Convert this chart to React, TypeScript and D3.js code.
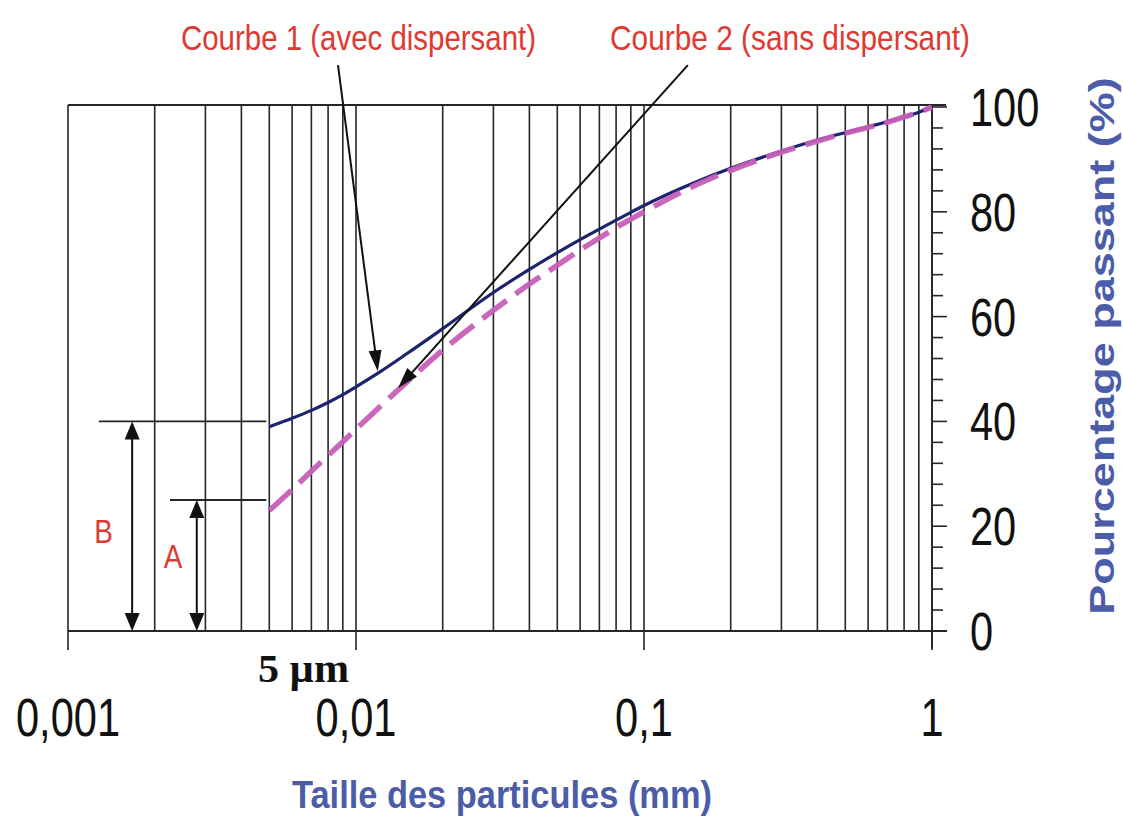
import React from "react";
import * as d3 from "d3";

const W = 1123;
const H = 818;

// Particle sizes (mm) and cumulative passing percentages
const sizes = [0.005, 0.006, 0.007, 0.008, 0.009, 0.01, 0.012, 0.015, 0.02, 0.03, 0.04, 0.05, 0.06, 0.07, 0.08, 0.09, 0.1, 0.15, 0.2, 0.3, 0.4, 0.5, 0.6, 0.7, 0.8, 0.9, 1];
const courbe1 = [39.0, 40.6, 42.1, 43.6, 45.1, 46.6, 49.3, 52.9, 57.7, 64.6, 69.0, 72.2, 74.7, 76.7, 78.4, 79.9, 81.2, 85.6, 88.3, 91.6, 93.7, 95.1, 96.2, 97.2, 98.1, 99.0, 100];
const courbe2 = [23.0, 27.0, 30.5, 33.5, 36.1, 38.5, 42.6, 47.5, 53.6, 61.2, 66.2, 69.8, 72.7, 75.0, 77.0, 78.6, 80.0, 85.0, 87.9, 91.4, 93.5, 95.0, 96.1, 97.1, 98.1, 99.0, 100];

const xTickValues = [0.001, 0.01, 0.1, 1];
const xTickLabels = ["0,001", "0,01", "0,1", "1"];
const yTickValues = [0, 20, 40, 60, 80, 100];
const yMinorStep = 4;

const label1 = "Courbe 1 (avec dispersant)";
const label2 = "Courbe 2 (sans dispersant)";
const xTitle = "Taille des particules (mm)";
const yTitle = "Pourcentage passant (%)";
const markerText = "5 µm";

// Brackets B and A (levels in %, positions in mm)
const brackets = [
  { name: "B", from: 0.00128, to: 0.005, level: 40, arrowAt: 0.00167 },
  { name: "A", from: 0.00226, to: 0.005, level: 25, arrowAt: 0.0028 },
];

// Pointer lines from the legend labels to the curves
const pointers = [
  { fromX: 0.00866, fromY: 108, toX: 0.0119, series: courbe1 },
  { fromX: 0.142, fromY: 108, toX: 0.014, series: courbe2 },
];

const x = d3.scaleLog().domain([0.001, 1]).range([68, 932]);
const y = d3.scaleLinear().domain([0, 100]).range([631, 107]);

const INK = "#262626";
const NAVY = "#1c2470";
const PINK = "#c65fb8";
const RED = "#de3a32";
const BLUE = "#4b5ca8";
const SANS = "'Liberation Sans', Arial, sans-serif";
const SQUEEZE = 0.77;

function interp(series: number[], v: number) {
  const lv = Math.log10(v);
  for (let i = 0; i < sizes.length - 1; i++) {
    const a = Math.log10(sizes[i]);
    const b = Math.log10(sizes[i + 1]);
    if (lv >= a && lv <= b) {
      const t = (lv - a) / (b - a);
      return series[i] + t * (series[i + 1] - series[i]);
    }
  }
  return series[series.length - 1];
}

function head(x1: number, y1: number, x2: number, y2: number, len: number, wid: number) {
  const dx = x2 - x1;
  const dy = y2 - y1;
  const d = Math.hypot(dx, dy) || 1;
  const ux = dx / d;
  const uy = dy / d;
  const bx = x2 - ux * len;
  const by = y2 - uy * len;
  const px = -uy * (wid / 2);
  const py = ux * (wid / 2);
  return `${x2},${y2} ${bx + px},${by + py} ${bx - px},${by - py}`;
}

export default function App() {
  const gridValues: number[] = [];
  for (let dec = 0.001; dec < 1.5; dec *= 10) {
    for (let k = 1; k <= 9; k++) {
      const v = +(dec * k).toPrecision(3);
      if (v <= 1) gridValues.push(v);
    }
  }

  const minorY = d3.range(0, 100 + 0.01, yMinorStep);

  const line = d3
    .line<number>()
    .x((_, i) => x(sizes[i]))
    .y((d) => y(d))
    .curve(d3.curveMonotoneX);

  return (
    <svg
      width={W}
      height={H}
      viewBox={`0 0 ${W} ${H}`}
      style={{ position: "absolute", left: 0, top: 0, background: "#fff" }}
    >
      {/* vertical log grid */}
      {gridValues.map((v) => (
        <line key={"g" + v} x1={x(v)} x2={x(v)} y1={y(100) - 2} y2={y(0)} stroke={INK} strokeWidth={1.6} />
      ))}
      {/* top and bottom frame lines */}
      <line x1={x(0.001)} x2={946} y1={y(100) - 2} y2={y(100) - 2} stroke={INK} strokeWidth={2} />
      <line x1={x(0.001)} x2={947} y1={y(0)} y2={y(0)} stroke={INK} strokeWidth={2} />
      {/* decade ticks below the axis */}
      {xTickValues.map((v) => (
        <line key={"xt" + v} x1={x(v)} x2={x(v)} y1={y(0)} y2={y(0) + 19} stroke={INK} strokeWidth={1.6} />
      ))}
      {/* right axis */}
      <line x1={x(1)} x2={x(1)} y1={y(100) - 2} y2={y(0) + 17} stroke={INK} strokeWidth={1.8} />
      {minorY.map((v) => {
        const major = v % 20 === 0;
        return (
          <line key={"yt" + v} x1={x(1)} x2={x(1) + (major ? 15 : 11)} y1={y(v)} y2={y(v)} stroke={INK} strokeWidth={1.6} />
        );
      })}

      {/* x tick labels */}
      {xTickValues.map((v, i) => (
        <text
          key={"xl" + v}
          transform={`translate(${x(v)},736) scale(${SQUEEZE},1)`}
          textAnchor="middle"
          fontFamily={SANS}
          fontSize={54}
          fill="#111"
        >
          {xTickLabels[i]}
        </text>
      ))}
      {/* y tick labels */}
      {yTickValues.map((v) => (
        <text
          key={"yl" + v}
          transform={`translate(970,${y(v) + 19}) scale(${SQUEEZE},1)`}
          textAnchor="start"
          fontFamily={SANS}
          fontSize={54}
          fill="#111"
        >
          {v}
        </text>
      ))}

      {/* brackets */}
      {brackets.map((b) => {
        const ax = x(b.arrowAt);
        const top = y(b.level);
        const bot = y(0);
        return (
          <g key={b.name}>
            <line x1={x(b.from)} x2={x(b.to) - 3} y1={top} y2={top} stroke={INK} strokeWidth={1.8} />
            <line x1={ax} x2={ax} y1={top + 10} y2={bot - 10} stroke="#111" strokeWidth={2} />
            <polygon points={head(ax, bot, ax, top, 18, 15)} fill="#111" />
            <polygon points={head(ax, top, ax, bot, 18, 15)} fill="#111" />
          </g>
        );
      })}
      <text transform={`translate(103.5,543) scale(0.82,1)`} textAnchor="middle" fontFamily={SANS} fontSize={34} fill={RED}>
        B
      </text>
      <text transform={`translate(173,568) scale(0.82,1)`} textAnchor="middle" fontFamily={SANS} fontSize={34} fill={RED}>
        A
      </text>

      {/* curves */}
      <path d={line(courbe1) || ""} fill="none" stroke={NAVY} strokeWidth={3.2} />
      <path d={line(courbe2) || ""} fill="none" stroke={PINK} strokeWidth={5.5} strokeDasharray="30 11" opacity={0.95} />

      {/* pointers from labels */}
      {pointers.map((p, i) => {
        const x1 = x(p.fromX);
        const y1 = y(p.fromY);
        const x2 = x(p.toX);
        const y2 = y(interp(p.series, p.toX)) - 2;
        const dx = x2 - x1;
        const dy = y2 - y1;
        const d = Math.hypot(dx, dy);
        return (
          <g key={"p" + i}>
            <line x1={x1} y1={y1} x2={x2 - (dx / d) * 12} y2={y2 - (dy / d) * 12} stroke="#111" strokeWidth={2} />
            <polygon points={head(x1, y1, x2, y2, 21, 13)} fill="#111" />
          </g>
        );
      })}

      {/* legend labels */}
      <text x={181} y={50} textLength={355} lengthAdjust="spacingAndGlyphs" fontFamily={SANS} fontSize={35} fill={RED}>
        {label1}
      </text>
      <text x={610} y={50} textLength={360} lengthAdjust="spacingAndGlyphs" fontFamily={SANS} fontSize={35} fill={RED}>
        {label2}
      </text>

      {/* 5 µm marker */}
      <text x={258} y={682} textLength={91} lengthAdjust="spacingAndGlyphs" fontFamily="'Liberation Serif', 'Times New Roman', serif" fontWeight="bold" fontSize={40} fill="#111">
        {markerText}
      </text>

      {/* axis titles */}
      <text x={292} y={808} textLength={420} lengthAdjust="spacingAndGlyphs" fontFamily={SANS} fontWeight="bold" fontSize={38} fill={BLUE}>
        {xTitle}
      </text>
      <text
        transform={`translate(1114,346) scale(${SQUEEZE},1) rotate(-90)`}
        textAnchor="middle"
        fontFamily={SANS}
        fontWeight="bold"
        fontSize={45}
        fill={BLUE}
      >
        {yTitle}
      </text>
    </svg>
  );
}
